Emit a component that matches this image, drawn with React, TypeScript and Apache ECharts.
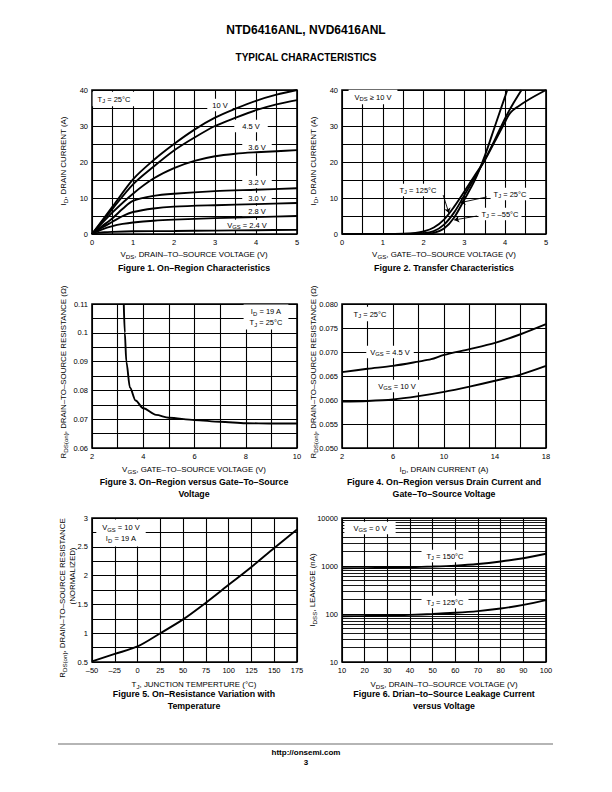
import React, { useEffect, useRef } from 'react';
import * as echarts from 'echarts';

const FF = '"Liberation Sans", Arial, Helvetica, sans-serif';

// ---------- Figure 1: On-Region Characteristics (VDS V, ID A) ----------
const fig1_10V = [[0, 0], [0.5, 7.6], [1, 15.2], [1.5, 20.5], [2, 25], [2.5, 29], [3, 32.3], [3.5, 34.8], [4, 37], [4.5, 38.7], [5, 40]];
const fig1_4V5 = [[0, 0], [0.5, 7.0], [1, 13.8], [1.5, 18.7], [2, 23.2], [2.5, 26.8], [3, 30], [3.5, 32.3], [4, 34.4], [4.5, 36], [5, 37.2]];
const fig1_3V6 = [[0, 0], [0.5, 6.0], [1, 11.2], [1.5, 15.4], [2, 18.3], [2.5, 20.3], [3, 21.6], [3.5, 22.3], [4, 22.7], [4.5, 23], [5, 23.3]];
const fig1_3V2 = [[0, 0], [0.25, 2.2], [0.5, 4.4], [0.75, 7.0], [1, 9.2], [1.5, 10.6], [2, 11.2], [3, 11.9], [4, 12.3], [5, 12.7]];
const fig1_3V0 = [[0, 0], [0.25, 1.8], [0.5, 3.4], [0.75, 5.0], [1, 6.1], [1.5, 7.1], [2, 7.6], [3, 8.0], [4, 8.3], [5, 8.6]];
const fig1_2V8 = [[0, 0], [0.25, 1.3], [0.5, 2.2], [0.75, 2.8], [1, 3.2], [1.5, 3.7], [2, 4.0], [3, 4.4], [4, 4.7], [5, 5.0]];
const fig1_2V4 = [[0, 0], [0.15, 0.3], [0.3, 0.5], [0.5, 0.6], [1, 0.75], [2, 0.85], [3, 0.95], [4, 1.05], [5, 1.15]];

// ---------- Figure 2: Transfer Characteristics (VGS V, ID A) ----------
const fig2_125C = [[0, 0], [1, 0.02], [1.5, 0.1], [1.8, 0.3], [2, 0.7], [2.25, 1.8], [2.5, 4.0], [2.75, 7.6], [3, 11.8], [3.25, 16.2], [3.5, 20.5], [3.75, 25.8], [4, 31.2], [4.12, 33.6], [4.3, 35.3], [4.6, 37.5], [5, 40]];
const fig2_25C = [[0, 0], [1.5, 0.02], [2, 0.2], [2.25, 0.8], [2.5, 2.6], [2.75, 6.0], [3, 10.8], [3.25, 15.6], [3.5, 20.6], [3.75, 26.3], [4, 32.2], [4.2, 36.3], [4.4, 40]];
const fig2_m55C = [[0, 0], [2, 0.05], [2.25, 0.3], [2.5, 1.5], [2.75, 4.6], [3, 9.6], [3.25, 14.8], [3.5, 21.7], [3.75, 30], [4, 38.3], [4.05, 40]];
const fig2Arrow125 = [[2.48, 10.8], [2.62, 5.8]];
const fig2Arrow25 = [[3.55, 10.3], [2.9, 8.7]];
const fig2ArrowM55 = [[3.31, 5.0], [2.75, 3.9]];

// ---------- Figure 3: RDS(on) vs VGS ----------
const fig3 = [[3.24, 0.11], [3.28, 0.1], [3.34, 0.09], [3.48, 0.081], [3.7, 0.0765], [4, 0.0738], [4.5, 0.0715], [5, 0.0705], [6, 0.0697], [7, 0.0691], [8, 0.0686], [9, 0.0685], [10, 0.0685]];

// ---------- Figure 4: RDS(on) vs ID ----------
const fig4_4V5 = [[2, 0.0658], [4, 0.0665], [6, 0.0671], [8, 0.068], [9, 0.0685], [10, 0.0694], [12, 0.0706], [14, 0.0719], [16, 0.0737], [18, 0.0758]];
const fig4_10V = [[2, 0.0597], [4, 0.0598], [6, 0.0601], [8, 0.0608], [10, 0.0617], [12, 0.0628], [14, 0.064], [16, 0.0653], [18, 0.0671]];

// ---------- Figure 5: normalized RDS(on) vs TJ ----------
const fig5 = [[-50, 0.51], [-25, 0.64], [0, 0.77], [25, 1.0], [50, 1.24], [75, 1.53], [100, 1.84], [125, 2.15], [150, 2.48], [175, 2.8]];

// ---------- Figure 6: IDSS leakage vs VDS ----------
const fig6_150C = [[10, 900], [20, 905], [30, 920], [40, 945], [50, 975], [60, 1020], [70, 1100], [80, 1240], [90, 1450], [100, 1800]];
const fig6_125C = [[10, 90], [20, 91], [30, 93], [40, 96], [50, 100], [60, 106], [70, 115], [80, 130], [90, 155], [100, 195]];
const fig6MinorGrid = [20, 30, 40, 50, 60, 70, 80, 90, 200, 300, 400, 500, 600, 700, 800, 900, 2000, 3000, 4000, 5000, 6000, 7000, 8000, 9000];

function makeRich(size: number) {
  return {
    n: { fontSize: size, lineHeight: size + 3, fontFamily: FF, fill: '#000' },
    s: { fontSize: size * 0.78, lineHeight: 4, verticalAlign: 'bottom', fontFamily: FF, fill: '#000' },
  };
}

function txt(x: number, y: number, text: string, o: any = {}) {
  const size = o.size || 7.5;
  const style: any = {
    text,
    rich: makeRich(size),
    fontSize: size,
    fontFamily: FF,
    fontWeight: o.bold ? 'bold' : 'normal',
    fill: '#000',
    align: o.align || 'center',
    verticalAlign: 'middle',
    lineHeight: o.lh || size + 3,
  };
  if (o.bg) {
    style.backgroundColor = '#fff';
    style.padding = o.pad || [2, 4];
  }
  return { type: 'text', x, y, z: 4, rotation: o.rot || 0, silent: true, style };
}

const labelStyle = { color: '#000', fontSize: 7.5, fontFamily: FF, margin: 4, showMinLabel: true, showMaxLabel: true };
const splitStyle = { show: true, lineStyle: { color: '#000', width: 1.1 } };

function axis(gridIndex: number, min: number, max: number, interval: number, formatter: (v: number) => string) {
  return {
    gridIndex, type: 'value', min, max, interval,
    axisLine: { show: false }, axisTick: { show: false },
    splitLine: splitStyle,
    axisLabel: { ...labelStyle, formatter },
  };
}

function curve(data: number[][], idx: number, extra: any = {}) {
  return {
    type: 'line', xAxisIndex: idx, yAxisIndex: idx, data, showSymbol: false, symbol: 'none',
    smooth: 0.3, silent: true, z: 6, lineStyle: { color: '#000', width: 1.9 }, ...extra,
  };
}

function arrow(a: number[][]) {
  return [{ coord: a[0] }, { coord: a[1] }];
}

const AX = 7.9; // axis title font size
const FIG = 8.8; // figure caption font size

export default function App() {
  const ref = useRef<HTMLDivElement>(null);
  useEffect(() => {
    if (!ref.current) return;
    const chart = echarts.init(ref.current, undefined, { renderer: 'svg' });
    const gridBase = { show: true, borderColor: '#000', borderWidth: 1.6, backgroundColor: 'transparent' };
    const option: any = {
      animation: false,
      backgroundColor: '#fff',
      grid: [
        { left: 92, top: 90, width: 205, height: 144, ...gridBase },
        { left: 342, top: 90, width: 204, height: 144, ...gridBase },
        { left: 92, top: 304, width: 205, height: 144, ...gridBase },
        { left: 342, top: 304, width: 204, height: 144, ...gridBase },
        { left: 92, top: 518, width: 205, height: 144, ...gridBase },
        { left: 342, top: 518, width: 204, height: 144, ...gridBase },
      ],
      xAxis: [
        axis(0, 0, 5, 0.5, (v) => (Number.isInteger(v) ? String(v) : '')),
        axis(1, 0, 5, 0.5, (v) => (Number.isInteger(v) ? String(v) : '')),
        axis(2, 2, 10, 1, (v) => (v % 2 === 0 ? String(v) : '')),
        axis(3, 2, 18, 2, (v) => ((v - 2) % 4 === 0 ? String(v) : '')),
        axis(4, -50, 175, 25, (v) => (v < 0 ? '\u2013' + Math.abs(v) : String(v))),
        axis(5, 10, 100, 10, (v) => String(v)),
      ],
      yAxis: [
        axis(0, 0, 40, 5, (v) => (v % 10 === 0 ? String(v) : '')),
        axis(1, 0, 40, 5, (v) => (v % 10 === 0 ? String(v) : '')),
        axis(2, 0.06, 0.11, 0.005, (v) => { const k = Math.round(v * 1000); return k % 10 === 0 ? String(k / 1000) : ''; }),
        axis(3, 0.05, 0.08, 0.005, (v) => (Math.round(v * 1000) / 1000).toFixed(3)),
        axis(4, 0.5, 3, 0.25, (v) => (Number.isInteger(Math.round(v * 1000) / 500) ? String(Math.round(v * 100) / 100) : '')),
        {
          gridIndex: 5, type: 'log', logBase: 10, min: 10, max: 10000,
          axisLine: { show: false }, axisTick: { show: false },
          splitLine: splitStyle, minorSplitLine: { show: false },
          axisLabel: { ...labelStyle, formatter: (v: number) => String(Math.round(v)) },
        },
      ],
      series: [
        curve(fig1_10V, 0), curve(fig1_4V5, 0), curve(fig1_3V6, 0), curve(fig1_3V2, 0),
        curve(fig1_3V0, 0), curve(fig1_2V8, 0), curve(fig1_2V4, 0),
        curve(fig2_125C, 1), curve(fig2_m55C, 1),
        curve(fig2_25C, 1, {
          markLine: {
            silent: true, z: 6, symbol: ['none', 'arrow'], symbolSize: 5, animation: false,
            label: { show: false }, lineStyle: { color: '#000', width: 0.9, type: 'solid' },
            emphasis: { disabled: true },
            data: [arrow(fig2Arrow125), arrow(fig2Arrow25), arrow(fig2ArrowM55)],
          },
        }),
        curve(fig3, 2, { smoothMonotone: 'x' }),
        curve(fig4_4V5, 3), curve(fig4_10V, 3),
        curve(fig5, 4),
        curve(fig6_150C, 5), curve(fig6_125C, 5),
        {
          type: 'line', xAxisIndex: 5, yAxisIndex: 5, data: fig6_125C, showSymbol: false, symbol: 'none',
          silent: true, z: 1, lineStyle: { opacity: 0 },
          markLine: {
            silent: true, z: 1, symbol: ['none', 'none'], animation: false,
            label: { show: false }, lineStyle: { color: '#000', width: 0.9, type: 'solid' },
            emphasis: { disabled: true },
            data: fig6MinorGrid.map((v) => ({ yAxis: v })),
          },
        },
      ],
      graphic: [
        // header
        txt(306, 30, 'NTD6416ANL, NVD6416ANL', { size: 12, bold: true, lh: 14 }),
        txt(306, 57, 'TYPICAL CHARACTERISTICS', { size: 10, bold: true, lh: 12 }),
        // Figure 1
        txt(114, 99, '{n|T}{s|J}{n| = 25°C}', { bg: true, pad: [2, 5] }),
        txt(220, 105, '10 V', { bg: true, pad: [1, 5] }),
        txt(251, 126, '4.5 V', { bg: true, pad: [1, 8] }),
        txt(257, 147, '3.6 V', { bg: true, pad: [1, 6] }),
        txt(257, 182, '3.2 V', { bg: true, pad: [1, 6] }),
        txt(257, 198, '3.0 V', { bg: true, pad: [0, 6] }),
        txt(257, 211, '2.8 V', { bg: true, pad: [0, 6] }),
        txt(247, 225, '{n|V}{s|GS}{n| = 2.4 V}', { bg: true, pad: [0, 4] }),
        txt(63, 161, '{n|I}{s|D}{n|, DRAIN CURRENT (A)}', { rot: Math.PI / 2, size: AX }),
        txt(194, 254, '{n|V}{s|DS}{n|, DRAIN\u2013TO\u2013SOURCE VOLTAGE (V)}', { size: AX }),
        txt(194, 268, 'Figure 1. On\u2013Region Characteristics', { size: FIG, bold: true, lh: 11 }),
        // Figure 2
        txt(373, 97, '{n|V}{s|DS}{n| \u2265 10 V}', { bg: true, pad: [2, 6] }),
        txt(418, 190, '{n|T}{s|J}{n| = 125°C}', { bg: true, pad: [1, 3] }),
        txt(510, 194, '{n|T}{s|J}{n| = 25°C}', { bg: true, pad: [1, 3] }),
        txt(500, 214, '{n|T}{s|J}{n| = \u201355°C}', { bg: true, pad: [1, 3] }),
        txt(313, 161, '{n|I}{s|D}{n|, DRAIN CURRENT (A)}', { rot: Math.PI / 2, size: AX }),
        txt(444, 254, '{n|V}{s|GS}{n|, GATE\u2013TO\u2013SOURCE VOLTAGE (V)}', { size: AX }),
        txt(444, 268, 'Figure 2. Transfer Characteristics', { size: FIG, bold: true, lh: 11 }),
        // Figure 3
        txt(266, 317, '{n|I}{s|D}{n| = 19 A}\n{n|T}{s|J}{n| = 25°C}', { bg: true, pad: [2, 6], lh: 10 }),
        txt(63, 372, '{n|R}{s|DS(on)}{n|, DRAIN\u2013TO\u2013SOURCE RESISTANCE (\u03A9)}', { rot: Math.PI / 2, size: AX }),
        txt(194, 469, '{n|V}{s|GS}{n|, GATE\u2013TO\u2013SOURCE VOLTAGE (V)}', { size: AX }),
        txt(194, 488, 'Figure 3. On\u2013Region versus Gate\u2013To\u2013Source\nVoltage', { size: FIG, bold: true, lh: 11.5 }),
        // Figure 4
        txt(370, 314, '{n|T}{s|J}{n| = 25°C}', { bg: true, pad: [2, 6] }),
        txt(390, 352, '{n|V}{s|GS}{n| = 4.5 V}', { bg: true, pad: [1, 4] }),
        txt(397, 386, '{n|V}{s|GS}{n| = 10 V}', { bg: true, pad: [1, 4] }),
        txt(313, 372, '{n|R}{s|DS(on)}{n|, DRAIN\u2013TO\u2013SOURCE RESISTANCE (\u03A9)}', { rot: Math.PI / 2, size: AX }),
        txt(444, 469, '{n|I}{s|D}{n|, DRAIN CURRENT (A)}', { size: AX }),
        txt(444, 488, 'Figure 4. On\u2013Region versus Drain Current and\nGate\u2013To\u2013Source Voltage', { size: FIG, bold: true, lh: 11.5 }),
        // Figure 5
        txt(121, 533, '{n|V}{s|GS}{n| = 10 V}\n{n|I}{s|D}{n| = 19 A}', { bg: true, pad: [3, 6], lh: 10 }),
        txt(62, 598, '{n|R}{s|DS(on)}{n|, DRAIN\u2013TO\u2013SOURCE RESISTANCE}', { rot: Math.PI / 2, size: AX }),
        txt(72, 576, '(NORMALIZED)', { rot: Math.PI / 2, size: AX }),
        txt(194, 684, '{n|T}{s|J}{n|, JUNCTION TEMPERTURE (°C)}', { size: AX }),
        txt(194, 700, 'Figure 5. On\u2013Resistance Variation with\nTemperature', { size: FIG, bold: true, lh: 11.5 }),
        // Figure 6
        txt(370, 528, '{n|V}{s|GS}{n| = 0 V}', { bg: true, pad: [1, 9] }),
        txt(445, 556, '{n|T}{s|J}{n| = 150°C}', { bg: true, pad: [1, 5] }),
        txt(445, 602, '{n|T}{s|J}{n| = 125°C}', { bg: true, pad: [1, 5] }),
        txt(312, 590, '{n|I}{s|DSS}{n|, LEAKAGE (nA)}', { rot: Math.PI / 2, size: AX }),
        txt(444, 684, '{n|V}{s|DS}{n|, DRAIN\u2013TO\u2013SOURCE VOLTAGE (V)}', { size: AX }),
        txt(444, 700, 'Figure 6. Drian\u2013to\u2013Source Leakage Current\nversus Voltage', { size: FIG, bold: true, lh: 11.5 }),
        // footer
        { type: 'line', z: 4, silent: true, shape: { x1: 58, y1: 744, x2: 553, y2: 744 }, style: { stroke: '#b5b5b5', lineWidth: 2 } },
        txt(306, 752, 'http://onsemi.com', { size: 8, bold: true }),
        txt(306, 762, '3', { size: 8, bold: true }),
      ],
    };
    chart.setOption(option);
    return () => chart.dispose();
  }, []);
  return <div ref={ref} style={{ position: 'absolute', left: 0, top: 0, width: 612, height: 792, background: '#fff' }} />;
}
